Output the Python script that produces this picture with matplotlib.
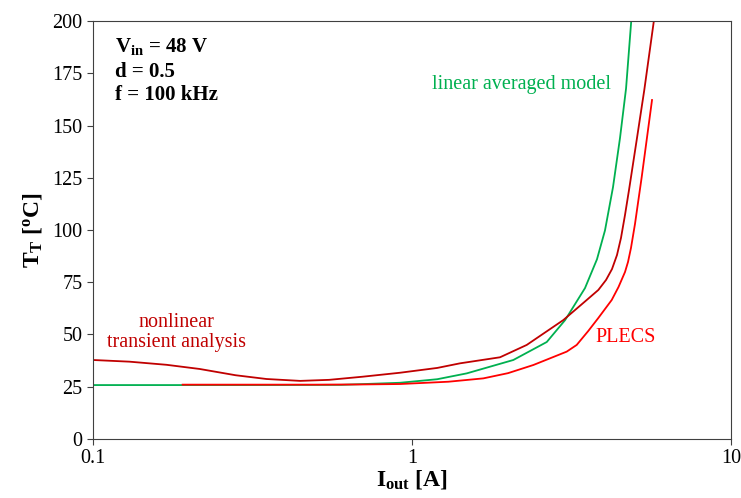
import matplotlib
matplotlib.use("Agg")
import matplotlib.pyplot as plt

plt.rcParams['font.family'] = ['Liberation Serif', 'DejaVu Serif']
plt.rcParams['mathtext.fontset'] = 'custom'
plt.rcParams['mathtext.rm'] = 'Liberation Serif'
plt.rcParams['mathtext.it'] = 'Liberation Serif:italic'
plt.rcParams['mathtext.bf'] = 'Liberation Serif:bold'

# nonlinear transient analysis (dark red)
i_nl = [0.1, 0.13, 0.17, 0.216, 0.28, 0.35, 0.446, 0.55, 0.7, 0.917, 1.2, 1.414, 1.888, 2.289, 2.981,
        3.486, 3.838, 4.058, 4.236, 4.391, 4.52, 4.653, 4.789, 5.063, 5.348, 5.736]
t_nl = [37.8, 37.0, 35.5, 33.5, 30.5, 28.7, 27.8, 28.3, 29.8, 31.7, 34.0, 36.2, 39.1, 45.0, 56.9,
        65.8, 71.3, 76.1, 81.3, 88.0, 96.2, 107.2, 119.1, 143.1, 167.0, 200.5]

# linear averaged model (green)
i_lin = [0.1, 0.3, 0.6, 0.917, 1.2, 1.485, 2.078, 2.645, 3.02, 3.486, 3.801, 4.027, 4.267, 4.487,
         4.688, 4.87]
t_lin = [25.8, 25.8, 25.9, 26.9, 28.6, 31.4, 37.8, 46.4, 56.9, 72.2, 86.0, 99.8, 120.5, 143.9,
         167.7, 200.5]

# PLECS (red)
i_pl = [0.191, 0.3, 0.5, 0.7, 0.917, 1.3, 1.673, 2.0, 2.401, 3.055, 3.283, 3.57, 3.838, 4.227, 4.439,
        4.653, 4.755, 4.858, 5.001, 5.121, 5.25, 5.441, 5.655]
t_pl = [26.0, 26.0, 26.0, 26.1, 26.3, 27.4, 29.0, 31.5, 35.4, 41.8, 45.0, 51.7, 57.9, 66.5, 72.7,
        79.9, 84.7, 91.4, 102.9, 113.9, 125.4, 143.1, 162.2]

fig = plt.figure(figsize=(7.41, 4.98), dpi=100)
ax = fig.add_axes([0.1255, 0.1185, 0.861, 0.8393])

ax.plot(i_lin, t_lin, color='#00b050', lw=1.3)
ax.plot(i_pl, t_pl, color='#ff0000', lw=1.3)
ax.plot(i_nl, t_nl, color='#c00000', lw=1.3)

ax.set_xscale('log')
ax.set_xlim(0.1, 10)
ax.set_ylim(0, 200)
ax.set_yticks(range(0, 201, 25))
ax.set_xticks([0.1, 1, 10])
ax.set_xticklabels(['0.1', '1', '10'])
ax.minorticks_off()
ax.tick_params(axis='both', direction='out', labelsize=14.5, length=4, color='#404040')
for s in ax.spines.values():
    s.set_color('#404040')

ax.set_xlabel(r'$\mathbf{I_{out}}$' + ' [A]', fontsize=17, fontweight='bold', labelpad=0)
ax.set_ylabel(r'$\mathbf{T_T}$' + ' [$^\mathbf{o}$C]', fontsize=17, fontweight='bold', labelpad=6)

ax.text(0.117, 187.6, r'$\mathbf{V_{in}}$ = 48 V', fontsize=15, fontweight='bold', va='center')
ax.text(0.117, 175.6, 'd = 0.5', fontsize=15, fontweight='bold', va='center')
ax.text(0.117, 164.6, 'f = 100 kHz', fontsize=15, fontweight='bold', va='center')

ax.text(2.21, 169.4, 'linear averaged model', color='#00b050', fontsize=14.5, ha='center', va='center')
ax.text(4.69, 48.8, 'PLECS', color='#ff0000', fontsize=14.5, ha='center', va='center')
ax.text(0.183, 51, 'nonlinear\ntransient analysis', color='#c00000', fontsize=14.5,
        ha='center', va='center', linespacing=1.05)

fig.savefig('out.png', dpi=100)
